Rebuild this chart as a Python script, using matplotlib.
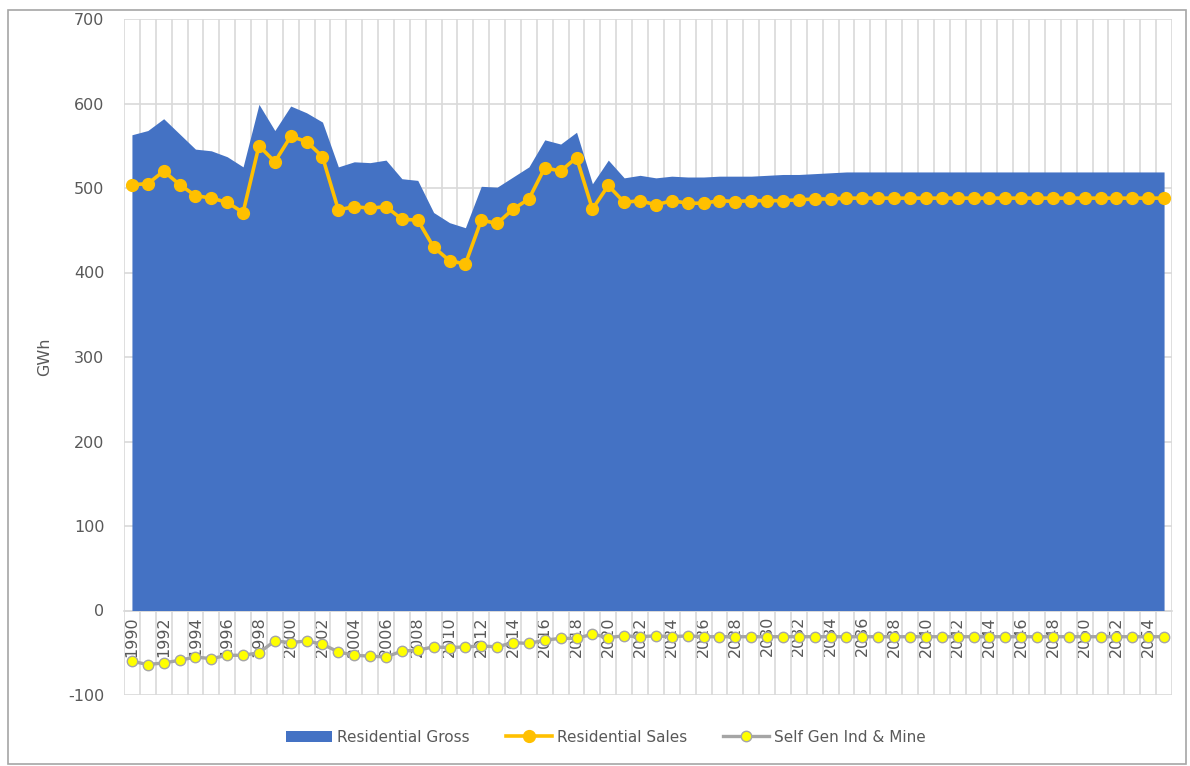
import matplotlib
matplotlib.use("Agg")
import matplotlib.pyplot as plt
from matplotlib.patches import Rectangle

plt.rcParams["axes.unicode_minus"] = False

# data (GWh)
years = list(range(1990, 2056))

residential_gross = [
    563, 568, 582, 564, 546, 544, 537, 525, 599, 568,
    597, 589, 578, 525, 531, 530, 533, 511, 509, 471,
    459, 453, 502, 501, 513, 525, 557, 552, 566, 505,
    533, 512, 515, 512, 514, 513, 513, 514, 514, 514,
    515, 516, 516, 517, 518, 519, 519, 519, 519, 519,
    519, 519, 519, 519, 519, 519, 519, 519, 519, 519,
    519, 519, 519, 519, 519, 519,
]

residential_sales = [
    504, 505, 520, 504, 491, 488, 483, 471, 550, 531,
    561, 555, 537, 474, 478, 476, 478, 463, 462, 430,
    414, 410, 462, 458, 475, 487, 524, 520, 536, 475,
    503, 483, 485, 480, 485, 482, 482, 485, 484, 485,
    485, 485, 486, 487, 487, 488, 488, 488, 488, 488,
    488, 488, 488, 488, 488, 488, 488, 488, 488, 488,
    488, 488, 488, 488, 488, 488,
]

self_gen = [
    -60, -64, -62, -59, -55, -57, -53, -53, -50, -36,
    -38, -36, -40, -49, -53, -54, -55, -48, -47, -43,
    -44, -43, -42, -43, -38, -39, -35, -33, -33, -28,
    -32, -30, -31, -30, -31, -30, -31, -31, -31, -31,
    -31, -31, -31, -31, -31, -31, -31, -31, -31, -31,
    -31, -31, -31, -31, -31, -31, -31, -31, -31, -31,
    -31, -31, -31, -31, -31, -31,
]

y_ticks = [-100, 0, 100, 200, 300, 400, 500, 600, 700]

txt = "#595959"
grid = "#D9D9D9"


def main():
    fig = plt.figure(figsize=(11.9, 7.66), dpi=100)
    ax = fig.add_axes([124 / 1190, 1 - 695 / 766, 1048 / 1190, 676 / 766])

    x = list(range(len(years)))

    ax.fill_between(x, 0, residential_gross, color="#4472C4", lw=0,
                    label="Residential Gross", zorder=2)
    ax.plot(x, residential_sales, color="#FFC000", lw=2.6, marker="o",
            markersize=8.5, markerfacecolor="#FFC000", markeredgecolor="#FFC000",
            label="Residential Sales", zorder=3)
    ax.plot(x, self_gen, color="#A5A5A5", lw=2.4, marker="o",
            markersize=7.5, markerfacecolor="#FFFF00", markeredgecolor="#A5A5A5",
            markeredgewidth=1.0, label="Self Gen Ind & Mine", zorder=4)

    # some tuning
    ax.set_xlim(-0.5, len(years) - 0.5)
    ax.set_ylim(-100, 700)
    ax.set_yticks(y_ticks)
    ax.set_xticks(x[::2], [str(y) for y in years[::2]])
    ax.set_xticks([i - 0.5 for i in range(len(years) + 1)], minor=True)

    ax.set_axisbelow(True)
    ax.grid(axis="y", which="major", color=grid, lw=1.2)
    ax.grid(axis="x", which="minor", color=grid, lw=1.2)

    for s in ["top", "right", "left"]:
        ax.spines[s].set_visible(False)
    ax.spines["bottom"].set_position(("data", 0))
    ax.spines["bottom"].set_color(grid)
    ax.spines["bottom"].set_linewidth(1.2)
    ax.spines["bottom"].set_zorder(1)

    ax.tick_params(axis="both", which="both", length=0, labelsize=11.5,
                   labelcolor=txt)
    ax.tick_params(axis="x", pad=4, labelrotation=90)
    ax.tick_params(axis="y", pad=14)

    ax.set_ylabel("GWh", fontsize=11.5, color=txt, labelpad=12)

    fig.legend(loc="center", bbox_to_anchor=(606 / 1190, 1 - 737 / 766), ncol=3,
               frameon=False, fontsize=11, labelcolor=txt, handlelength=3.0,
               handletextpad=0.3, columnspacing=2.4)

    fig.patches.append(Rectangle((8 / 1190, 2 / 766), 1178 / 1190, 754 / 766,
                                 transform=fig.transFigure, fill=False,
                                 edgecolor="#A6A6A6", lw=1.2))

    fig.savefig("out.png", dpi=100)


if __name__ == "__main__":
    main()
